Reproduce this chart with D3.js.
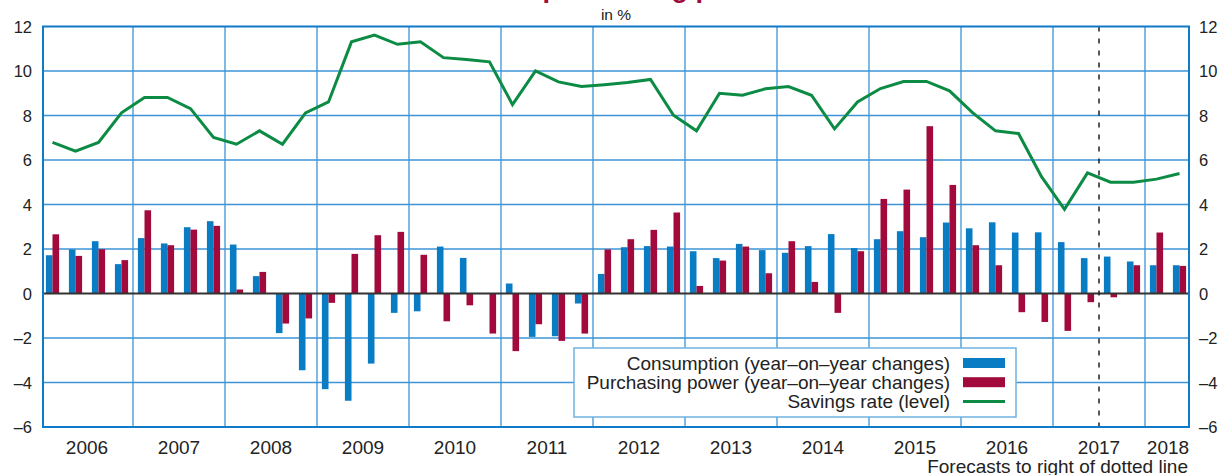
<!DOCTYPE html>
<html>
<head>
<meta charset="utf-8">
<script src="https://d3js.org/d3.v7.min.js"></script>
<style>
  body { margin: 0; background: #fff; }
  svg { display: block; font-family: "Liberation Sans", Arial, Helvetica, sans-serif; }
</style>
</head>
<body>
<div class="chart"></div>
<script>
// quarterly data 2006Q1 - 2018Q2
var years = ["2006","2007","2008","2009","2010","2011","2012","2013","2014","2015","2016","2017","2018"];
var quarters = [];
years.forEach(function(y) {
  var n = (y === "2018") ? 2 : 4;
  for (var i = 1; i <= n; i++) quarters.push(y + "Q" + i);
});

var consumption = [1.72,1.98,2.35,1.32, 2.49,2.25,2.98,3.25, 2.2,0.78,-1.78,-3.45,
  -4.3,-4.82,-3.15,-0.87, -0.8,2.11,1.6,0, 0.45,-1.95,-1.92,-0.45,
  0.88,2.08,2.13,2.11, 1.9,1.59,2.23,1.95, 1.83,2.13,2.67,2.04,
  2.44,2.8,2.53,3.19, 2.93,3.2,2.74,2.75, 2.31,1.59,1.66,1.44, 1.27,1.27];

var purchasing = [2.66,1.69,1.99,1.5, 3.74,2.17,2.87,3.04, 0.18,0.97,-1.35,-1.12,
  -0.42,1.78,2.62,2.77, 1.74,-1.25,-0.53,-1.8, -2.59,-1.38,-2.13,-1.8,
  1.98,2.44,2.86,3.64, 0.34,1.48,2.11,0.91, 2.35,0.52,-0.87,1.9,
  4.25,4.67,7.52,4.88, 2.17,1.27,-0.84,-1.28, -1.68,-0.39,-0.17,1.27, 2.74,1.24];

var savings = [6.79,6.4,6.79,8.12, 8.81,8.81,8.31,7.01, 6.71,7.31,6.71,8.12,
  8.61,11.31,11.61,11.2, 11.31,10.6,10.52,10.41, 8.49,10.0,9.51,9.3,
  9.38,9.48,9.62,8.01, 7.31,9.0,8.91,9.2, 9.3,8.91,7.4,8.61,
  9.21,9.53,9.53,9.11, 8.13,7.31,7.19,5.25, 3.78,5.42,5.0,5.0, 5.14,5.39];

var yTicks = [12,10,8,6,4,2,0,-2,-4,-6];
var forecastFrom = "2017Q3";
var legendLabels = ["Consumption (year\u2013on\u2013year changes)",
  "Purchasing power (year\u2013on\u2013year changes)",
  "Savings rate (level)"];

var colBlue = "#0a7cc4";
var colRed = "#a10a3b";
var colGreen = "#0b8b43";
var colGrid = "#3d94d6";
var colFrame = "#0f7bc8";

var svgWidth = 1218;
var svgHeight = 475;

var svg = d3.select(".chart")
  .append("svg")
  .attr("width", svgWidth)
  .attr("height", svgHeight);

// scales
var x = d3.scaleBand()
  .domain(quarters)
  .range([41, 1191])
  .padding(0);

var y = d3.scaleLinear()
  .domain([-6, 12])
  .range([427, 26.5]);

var plotLeft = 43, plotRight = 1189;
var bw = x.bandwidth();
var barW = 6.6;

// title, second line only partly visible at the top edge
svg.append("text")
  .attr("x", 775)
  .attr("y", -3)
  .attr("text-anchor", "end")
  .attr("font-size", 27)
  .attr("font-weight", "bold")
  .attr("fill", colRed)
  .text("and purchasing power");

svg.append("text")
  .attr("x", 616)
  .attr("y", 20)
  .attr("text-anchor", "middle")
  .attr("font-size", 15.5)
  .attr("fill", "#222")
  .text("in %");

// grid
var grid = svg.append("g");
grid.selectAll(".hgrid")
  .data(yTicks.filter(function(d) { return d !== 0 && d !== 12 && d !== -6; }))
  .enter().append("line")
  .attr("x1", plotLeft).attr("x2", plotRight)
  .attr("y1", function(d) { return y(d); })
  .attr("y2", function(d) { return y(d); })
  .attr("stroke", colGrid)
  .attr("stroke-width", 1.3);

grid.selectAll(".vgrid")
  .data(years.slice(1))
  .enter().append("line")
  .attr("x1", function(d) { return x(d + "Q1"); })
  .attr("x2", function(d) { return x(d + "Q1"); })
  .attr("y1", y(12)).attr("y2", y(-6))
  .attr("stroke", colGrid)
  .attr("stroke-width", 1.3);

// bars
var bars = svg.append("g");
bars.selectAll(".cons")
  .data(consumption)
  .enter().append("rect")
  .attr("x", function(d, i) { return x(quarters[i]) + bw / 2 - barW; })
  .attr("y", function(d) { return y(Math.max(0, d)); })
  .attr("width", barW)
  .attr("height", function(d) { return Math.abs(y(d) - y(0)); })
  .attr("fill", colBlue);

bars.selectAll(".purch")
  .data(purchasing)
  .enter().append("rect")
  .attr("x", function(d, i) { return x(quarters[i]) + bw / 2; })
  .attr("y", function(d) { return y(Math.max(0, d)); })
  .attr("width", barW)
  .attr("height", function(d) { return Math.abs(y(d) - y(0)); })
  .attr("fill", colRed);

// zero line
svg.append("line")
  .attr("x1", plotLeft).attr("x2", plotRight)
  .attr("y1", y(0)).attr("y2", y(0))
  .attr("stroke", "#333")
  .attr("stroke-width", 2);

// savings rate line
var line = d3.line()
  .x(function(d, i) { return x(quarters[i]) + bw / 2; })
  .y(function(d) { return y(d); });

svg.append("path")
  .datum(savings)
  .attr("d", line)
  .attr("fill", "none")
  .attr("stroke", colGreen)
  .attr("stroke-width", 3)
  .attr("stroke-linejoin", "miter");

// forecast divider
svg.append("line")
  .attr("x1", x(forecastFrom)).attr("x2", x(forecastFrom))
  .attr("y1", y(12)).attr("y2", y(-6))
  .attr("stroke", "#111")
  .attr("stroke-width", 1.4)
  .attr("stroke-dasharray", "5,7");

// frame
svg.append("rect")
  .attr("x", plotLeft).attr("y", y(12))
  .attr("width", plotRight - plotLeft)
  .attr("height", y(-6) - y(12))
  .attr("fill", "none")
  .attr("stroke", colFrame)
  .attr("stroke-width", 2);

// y labels, both sides
function fmt(d) { return d < 0 ? "\u2013" + Math.abs(d) : String(d); }

svg.append("g").selectAll("text")
  .data(yTicks)
  .enter().append("text")
  .attr("x", 32)
  .attr("y", function(d) { return y(d) + 6; })
  .attr("text-anchor", "end")
  .attr("font-size", 16.5)
  .attr("fill", "#222")
  .text(fmt);

svg.append("g").selectAll("text")
  .data(yTicks)
  .enter().append("text")
  .attr("x", 1199)
  .attr("y", function(d) { return y(d) + 6; })
  .attr("text-anchor", "start")
  .attr("font-size", 16.5)
  .attr("fill", "#222")
  .text(fmt);

// year labels
svg.append("g").selectAll("text")
  .data(years)
  .enter().append("text")
  .attr("x", function(d) {
    var qs = quarters.filter(function(q) { return q.slice(0, 4) === d; });
    return (x(qs[0]) + x(qs[qs.length - 1]) + bw) / 2;
  })
  .attr("y", 454)
  .attr("text-anchor", "middle")
  .attr("font-size", 19)
  .attr("fill", "#222")
  .text(function(d) { return d; });

svg.append("text")
  .attr("x", 1188)
  .attr("y", 473)
  .attr("text-anchor", "end")
  .attr("font-size", 19)
  .attr("fill", "#222")
  .text("Forecasts to right of dotted line");

// legend
var legend = svg.append("g");
legend.append("rect")
  .attr("x", 574).attr("y", 348)
  .attr("width", 442).attr("height", 69)
  .attr("fill", "#fff")
  .attr("stroke", "#6fb2e2")
  .attr("stroke-width", 1.5);

var legendColors = [colBlue, colRed, colGreen];
legendLabels.forEach(function(lbl, i) {
  var by = 369.5 + i * 19.2;
  legend.append("text")
    .attr("x", 950)
    .attr("y", by)
    .attr("text-anchor", "end")
    .attr("font-size", 19)
    .attr("fill", "#222")
    .text(lbl);
  if (i < 2) {
    legend.append("rect")
      .attr("x", 963).attr("y", by - 11.5)
      .attr("width", 42).attr("height", 10)
      .attr("fill", legendColors[i]);
  } else {
    legend.append("line")
      .attr("x1", 963).attr("x2", 1005)
      .attr("y1", by - 6.5).attr("y2", by - 6.5)
      .attr("stroke", legendColors[i])
      .attr("stroke-width", 3);
  }
});
</script>
</body>
</html>
